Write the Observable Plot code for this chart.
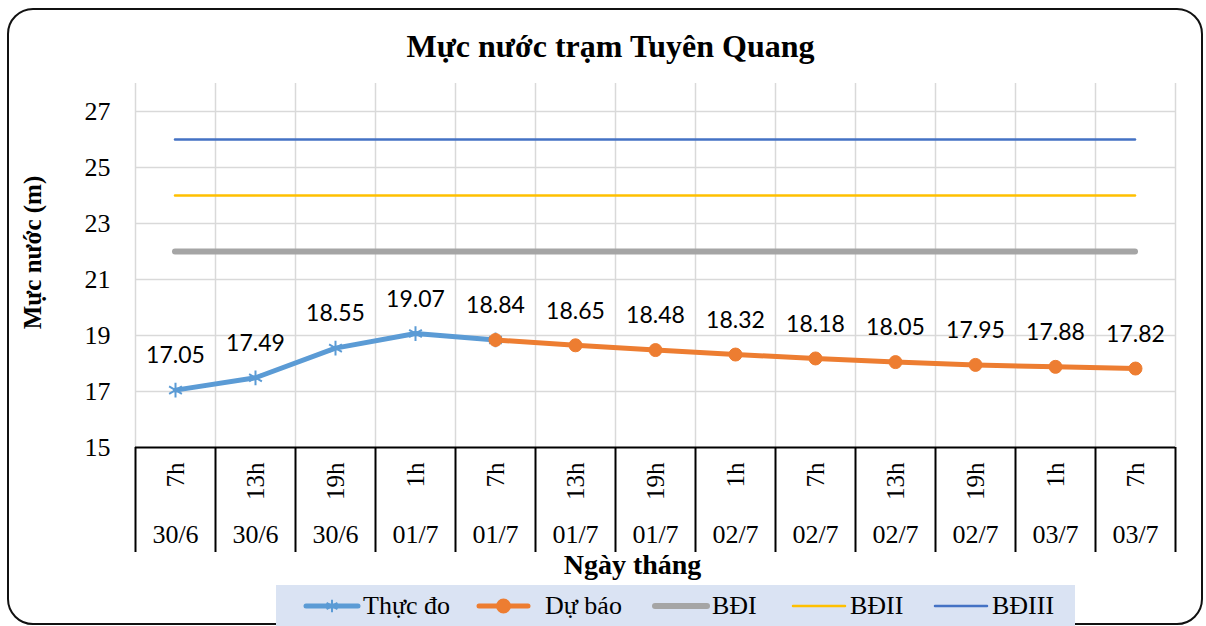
<!DOCTYPE html>
<html>
<head>
<meta charset="utf-8">
<script src="https://cdn.jsdelivr.net/npm/d3@7"></script>
<script src="https://cdn.jsdelivr.net/npm/@observablehq/plot@0.6"></script>
<style>
  html, body { margin: 0; padding: 0; background: #fff; }
  #wrap { position: relative; width: 1206px; height: 626px; overflow: hidden; background: #fff; }
  #frame { position: absolute; left: 7px; top: 8px; width: 1196px; height: 617px; box-sizing: border-box;
           border: 2px solid #111; border-radius: 26px; }
  #chart { position: absolute; left: 0; top: 0; }
  #legend { position: absolute; left: 276px; top: 585px; width: 799px; height: 45px; background: #dae3f3; }
  .item { position: absolute; top: 0; height: 42px; display: flex; align-items: center;
          font-family: "Liberation Serif", "Times New Roman", serif; font-size: 26px; color: #000; white-space: nowrap; }
  .item svg { display: block; }
</style>
</head>
<body>
<div id="wrap">
  <div id="frame"></div>
  <div id="chart"></div>
  <div id="legend"></div>
</div>
<script>
// ---- data ----
const title = "Mực nước trạm Tuyên Quang";
const yTitle = "Mực nước (m)";
const xTitle = "Ngày tháng";
const hours = ["7h", "13h", "19h", "1h", "7h", "13h", "19h", "1h", "7h", "13h", "19h", "1h", "7h"];
const dates = ["30/6", "30/6", "30/6", "01/7", "01/7", "01/7", "01/7", "02/7", "02/7", "02/7", "02/7", "03/7", "03/7"];
const observed = [17.05, 17.49, 18.55, 19.07, 18.84, null, null, null, null, null, null, null, null];
const forecast = [null, null, null, null, 18.84, 18.65, 18.48, 18.32, 18.18, 18.05, 17.95, 17.88, 17.82];
const levelNames = ["BĐI", "BĐII", "BĐIII"];
const levelValues = [22, 24, 26];
const seriesNames = ["Thực đo", "Dự báo"];
const yTicks = [15, 17, 19, 21, 23, 25, 27];

// ---- styles ----
const serif = "'Liberation Serif', 'Times New Roman', serif";
const obsColor = "#5b9bd5", fcColor = "#ed7d31";
const levelColors = ["#a5a5a5", "#ffc000", "#4472c4"];
const levelWidths = [6, 2.5, 2.5];

const idx = hours.map((_, i) => i);
const bounds = d3.range(-0.5, hours.length, 1);
const obsData = observed.map((v, i) => ({i, v})).filter(d => d.v != null);
const fcData = forecast.map((v, i) => ({i, v})).filter(d => d.v != null);
const labelData = idx.map(i => ({i, v: observed[i] != null ? observed[i] : forecast[i]}));
const first = 0, last = hours.length - 1;

const chart = Plot.plot({
  width: 1206,
  height: 585,
  marginLeft: 135,
  marginRight: 31,
  marginTop: 83,
  marginBottom: 138,
  x: {type: "linear", domain: [-0.5, hours.length - 0.5], axis: null},
  y: {domain: [15, 28], axis: null},
  style: {background: "transparent", overflow: "visible"},
  marks: [
    // gridlines
    Plot.ruleY(yTicks.slice(1), {x1: -0.5, x2: hours.length - 0.5, stroke: "#d9d9d9", strokeWidth: 1.5}),
    Plot.ruleX(bounds, {y1: 15, y2: 28, stroke: "#d9d9d9", strokeWidth: 1.5}),
    // category table lines
    Plot.axisX(bounds, {tickSize: 105, tickFormat: () => "", label: null, stroke: "#000", strokeWidth: 2}),
    Plot.ruleY([15], {x1: -0.5, x2: hours.length - 0.5, stroke: "#000", strokeWidth: 2}),
    // y axis labels
    Plot.axisY(yTicks, {tickSize: 0, tickPadding: 25, label: null, fontSize: 26, fontFamily: serif, fill: "#000"}),
    // category labels
    Plot.text(idx, {x: d => d, text: i => hours[i], frameAnchor: "bottom", dy: 15, rotate: -90,
      textAnchor: "end", lineAnchor: "middle", fontSize: 25, fontFamily: serif, fill: "#000"}),
    Plot.text(idx, {x: d => d, text: i => dates[i], frameAnchor: "bottom", dy: 87,
      lineAnchor: "middle", fontSize: 26, fontFamily: serif, fill: "#000"}),
    // threshold lines
    ...levelValues.map((v, k) => Plot.ruleY([v], {x1: first, x2: last, stroke: levelColors[k],
      strokeWidth: levelWidths[k], strokeLinecap: "round"})),
    // observed
    Plot.line(obsData, {x: "i", y: "v", stroke: obsColor, strokeWidth: 5, strokeLinejoin: "round", strokeLinecap: "round"}),
    Plot.dot(obsData, {x: "i", y: "v", symbol: "asterisk", r: 7, stroke: obsColor, strokeWidth: 2}),
    // forecast
    Plot.line(fcData, {x: "i", y: "v", stroke: fcColor, strokeWidth: 5, strokeLinejoin: "round", strokeLinecap: "round"}),
    Plot.dot(fcData, {x: "i", y: "v", symbol: "circle", r: 6.5, fill: fcColor, stroke: fcColor, strokeWidth: 1}),
    // data labels
    Plot.text(labelData, {x: "i", y: "v", text: d => d.v.toFixed(2), dy: -34, lineAnchor: "middle",
      fontSize: 23, fontFamily: "Lato, 'Open Sans', sans-serif", fill: "#000"}),
    // titles
    Plot.text([title], {text: d => d, frameAnchor: "top", dx: -45, dy: -37, lineAnchor: "middle",
      textAnchor: "middle", fontSize: 32, fontWeight: "bold", fontFamily: serif, fill: "#000"}),
    Plot.text([yTitle], {text: d => d, frameAnchor: "left", dx: -103, dy: -13, rotate: -90, lineAnchor: "middle",
      textAnchor: "middle", fontSize: 25, fontWeight: "bold", fontFamily: serif, fill: "#000"}),
    Plot.text([xTitle], {text: d => d, frameAnchor: "bottom", dx: -23, dy: 118, lineAnchor: "middle",
      textAnchor: "middle", fontSize: 28, fontWeight: "bold", fontFamily: serif, fill: "#000"})
  ]
});
document.getElementById("chart").appendChild(chart);

// ---- legend ----
const legend = document.getElementById("legend");
const legendItems = [
  {name: seriesNames[0], color: obsColor, width: 5, marker: "asterisk", left: 303 - 276, sw: 58, gap: 2},
  {name: seriesNames[1], color: fcColor, width: 5, marker: "circle", left: 476 - 276, sw: 55, gap: 14},
  ...levelNames.map((n, k) => ({name: n, color: levelColors[k], width: levelWidths[k], marker: null,
    left: [652, 790, 932][k] - 276, sw: 58, gap: 2}))
];
for (const it of legendItems) {
  const div = document.createElement("div");
  div.className = "item";
  div.style.left = it.left + "px";
  const ns = "http://www.w3.org/2000/svg";
  const svg = document.createElementNS(ns, "svg");
  svg.setAttribute("width", it.sw);
  svg.setAttribute("height", 20);
  const ln = document.createElementNS(ns, "line");
  ln.setAttribute("x1", 3); ln.setAttribute("x2", it.sw - 3);
  ln.setAttribute("y1", 10); ln.setAttribute("y2", 10);
  ln.setAttribute("stroke", it.color); ln.setAttribute("stroke-width", it.width);
  ln.setAttribute("stroke-linecap", "round");
  svg.appendChild(ln);
  if (it.marker) {
    const p = document.createElementNS(ns, "path");
    const sym = it.marker === "circle" ? d3.symbolCircle : d3.symbolAsterisk;
    p.setAttribute("d", d3.symbol(sym, it.marker === "circle" ? 130 : 110)());
    p.setAttribute("transform", `translate(${it.sw / 2},10)`);
    p.setAttribute("fill", it.marker === "circle" ? it.color : "none");
    p.setAttribute("stroke", it.color);
    p.setAttribute("stroke-width", 2);
    svg.appendChild(p);
  }
  div.appendChild(svg);
  const span = document.createElement("span");
  span.style.marginLeft = it.gap + "px";
  span.textContent = it.name;
  div.appendChild(span);
  legend.appendChild(div);
}
</script>
</body>
</html>
